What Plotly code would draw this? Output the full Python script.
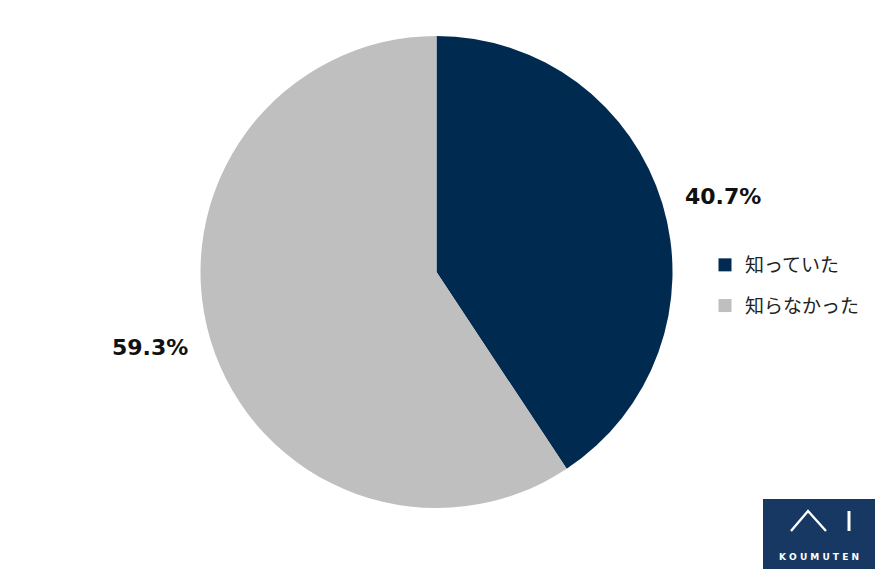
import math
import plotly.graph_objects as go

labels = ["知っていた", "知らなかった"]
values = [40.7, 59.3]
colors = ["#002A4F", "#BFBFBF"]

W, H = 875, 569

def px(x):
    return x / W

def py(y):
    return 1 - y / H

# pie geometry (pixels)
CX, CY, R = 436.5, 272, 236
dom_x = [px(CX - R), px(CX + R)]
dom_y = [py(CY + R), py(CY - R)]

fig = go.Figure()
fig.add_trace(go.Pie(
    labels=labels,
    values=values,
    sort=False,
    direction="clockwise",
    rotation=0,
    marker=dict(colors=colors, line=dict(width=0)),
    textinfo="none",
    domain=dict(x=dom_x, y=dom_y),
    hoverinfo="label+percent",
    showlegend=False,
))

# percentage labels placed outside along each slice's mid-angle
total = sum(values)
cum = 0.0
for v in values:
    mid = (cum + v / 2) / total * 2 * math.pi + math.radians(2)
    cum += v
    k = 1.255
    lx = CX + R * k * math.sin(mid)
    ly = CY - R * k * math.cos(mid)
    fig.add_annotation(xref="paper", yref="paper", x=px(lx), y=py(ly),
                       text=f"<b>{v:.1f}%</b>", showarrow=False,
                       xanchor="center", yanchor="middle",
                       font=dict(size=22, color="#111111", family="DejaVu Sans"))

# hidden axes + legend entries
for lab, col in zip(labels, colors):
    fig.add_trace(go.Scatter(
        x=[None], y=[None], mode="markers", name=lab,
        marker=dict(symbol="square", size=13, color=col),
        legendgroup=lab, showlegend=True, hoverinfo="skip",
    ))

fig.update_layout(
    width=W, height=H,
    margin=dict(l=0, r=0, t=0, b=0),
    paper_bgcolor="white",
    plot_bgcolor="white",
    showlegend=True,
    xaxis=dict(visible=False),
    yaxis=dict(visible=False),
    legend=dict(
        x=px(705), y=py(246), xanchor="left", yanchor="top",
        font=dict(size=19, color="#222222", family="Noto Sans CJK JP"),
        bgcolor="rgba(0,0,0,0)",
        tracegroupgap=13,
    ),
    font=dict(family="Noto Sans CJK JP"),
)

# logo block
fig.add_shape(type="rect", xref="paper", yref="paper",
              x0=px(763), x1=1, y0=0, y1=py(499),
              fillcolor="#163862", line=dict(width=0), layer="above")
fig.add_shape(type="path", xref="paper", yref="paper",
              path=f"M {px(791)} {py(531)} L {px(808)} {py(511)} L {px(826)} {py(531)}",
              line=dict(color="white", width=2.4), layer="above")
fig.add_shape(type="line", xref="paper", yref="paper",
              x0=px(849), x1=px(849), y0=py(511), y1=py(531),
              line=dict(color="white", width=3), layer="above")
fig.add_annotation(xref="paper", yref="paper", x=px(819), y=py(557),
                   text="<b>K O U M U T E N</b>", showarrow=False,
                   font=dict(size=9, color="white", family="DejaVu Sans"),
                   xanchor="center", yanchor="middle")

fig.write_html("out.html", config={"displayModeBar": False},
               post_script="document.body.style.margin='0';")
